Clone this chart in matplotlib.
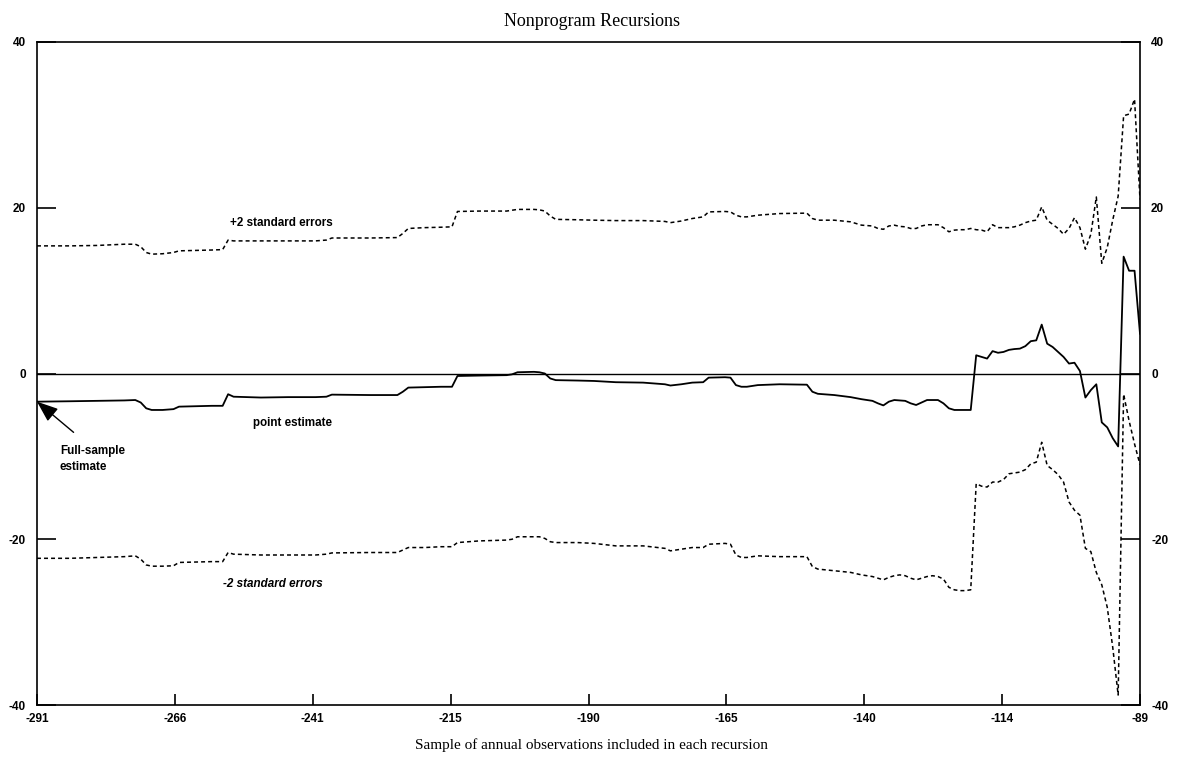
import matplotlib
matplotlib.use("Agg")
import matplotlib.pyplot as plt

# ---- data ----
sample = [-291, -285, -280, -275, -273, -272, -271, -270, -268, -266, -265, -262, -259, -257,
          -256, -255, -250, -245, -240, -238, -237, -230, -225, -224, -223, -220, -217, -215,
          -214, -210, -205, -204, -203, -200, -199, -198, -197, -196, -192, -189, -185, -180,
          -176, -175, -173, -171, -169, -168, -165, -164, -163, -162, -161, -159, -155, -150,
          -149, -148, -145, -142, -140, -138, -137, -136, -135, -134,
          -133, -132, -131, -130, -129, -128, -127, -126, -125, -124, -123, -122, -121, -120,
          -119, -118, -117, -116, -115, -114, -113, -112, -111, -110, -109, -108, -107, -106,
          -105, -104, -103, -102, -101, -100, -99, -98, -97, -96, -95, -94, -93, -92, -91,
          -90, -89]

point_est = [-3.4, -3.35, -3.3, -3.25, -3.2, -3.5, -4.2, -4.4, -4.4, -4.3, -4.0, -3.95, -3.9, -3.9,
             -2.5, -2.8, -2.9, -2.85, -2.85, -2.8, -2.55, -2.6, -2.6, -2.2, -1.7, -1.65, -1.6, -1.6,
             -0.3, -0.25, -0.2, -0.1, 0.15, 0.2, 0.15, 0.0, -0.6, -0.8, -0.85, -0.9, -1.05, -1.1,
             -1.3, -1.45, -1.3, -1.1, -1.05, -0.5, -0.45, -0.5, -1.4, -1.6, -1.6, -1.4, -1.3, -1.35,
             -2.2, -2.45, -2.6, -2.85, -3.1, -3.3, -3.6, -3.85, -3.4, -3.2,
             -3.25, -3.3, -3.6, -3.8, -3.5, -3.2, -3.2, -3.2, -3.6, -4.2, -4.4, -4.4, -4.4, -4.4,
             2.2, 2.0, 1.8, 2.7, 2.5, 2.6, 2.85, 2.95, 3.0, 3.3, 3.9, 4.0, 5.9, 3.6,
             3.2, 2.6, 2.0, 1.2, 1.3, 0.3, -2.9, -2.0, -1.3, -5.9, -6.5, -7.8, -8.8, 14.1, 12.4,
             12.4, 4.8]

upper_2se = [15.4, 15.4, 15.45, 15.6, 15.6, 15.3, 14.6, 14.4, 14.45, 14.6, 14.8, 14.85, 14.9, 14.95,
             16.1, 16.0, 16.0, 16.0, 16.0, 16.1, 16.35, 16.35, 16.4, 16.9, 17.5, 17.6, 17.65, 17.7,
             19.55, 19.6, 19.6, 19.7, 19.8, 19.8, 19.75, 19.6, 19.0, 18.6, 18.55, 18.5, 18.45, 18.45,
             18.35, 18.2, 18.4, 18.7, 18.9, 19.5, 19.55, 19.5, 19.1, 18.9, 18.9, 19.1, 19.3, 19.35,
             18.7, 18.5, 18.5, 18.3, 17.9, 17.8, 17.5, 17.4, 17.8, 17.9,
             17.75, 17.7, 17.5, 17.5, 17.8, 17.95, 17.95, 17.95, 17.6, 17.1, 17.3, 17.35, 17.35, 17.5,
             17.35, 17.3, 17.1, 17.95, 17.6, 17.6, 17.6, 17.7, 17.9, 18.2, 18.4, 18.5, 20.1, 18.5,
             18.0, 17.5, 16.8, 17.5, 18.8, 17.6, 15.0, 16.8, 21.3, 13.3, 15.2, 18.5, 21.4, 31.1, 31.3,
             33.1, 21.0]

lower_2se = [-22.3, -22.3, -22.2, -22.1, -22.0, -22.4, -23.1, -23.25, -23.25, -23.2, -22.8, -22.75, -22.7, -22.7,
             -21.6, -21.8, -21.9, -21.9, -21.9, -21.8, -21.65, -21.6, -21.6, -21.3, -21.0, -21.0, -20.9, -20.9,
             -20.4, -20.2, -20.1, -20.0, -19.7, -19.7, -19.7, -19.9, -20.3, -20.4, -20.4, -20.5, -20.8, -20.8,
             -21.1, -21.4, -21.2, -21.0, -21.0, -20.6, -20.5, -20.6, -21.9, -22.2, -22.2, -22.0, -22.1, -22.1,
             -23.3, -23.6, -23.8, -24.0, -24.3, -24.5, -24.7, -24.9, -24.6, -24.4,
             -24.3, -24.4, -24.7, -24.9, -24.7, -24.5, -24.4, -24.5, -24.8, -25.8, -26.1, -26.2, -26.2, -26.1,
             -13.3, -13.6, -13.7, -13.1, -13.1, -12.8, -12.1, -12.0, -11.9, -11.6, -10.9, -10.7, -8.3, -11.1,
             -11.6, -12.2, -13.1, -15.5, -16.5, -17.1, -21.1, -21.5, -24.0, -25.5, -28.2, -33.0, -38.8, -2.5, -5.7,
             -8.5, -11.0]

x_ticks = [-291, -265.75, -240.5, -215.25, -190, -164.75, -139.5, -114.25, -89]
x_tick_labels = ["-291", "-266", "-241", "-215", "-190", "-165", "-140", "-114", "-89"]
y_ticks = [-40, -20, 0, 20, 40]
y_tick_labels = ["-40", "-20", "0", "20", "40"]

W, H = 1183, 758
fig = plt.figure(figsize=(W / 100, H / 100), dpi=100)
ax = fig.add_axes([37 / W, 1 - 705 / H, (1140 - 37) / W, (705 - 42) / H])

ax.plot(sample, upper_2se, color="black", lw=1.1, ls=(0, (2.6, 2.0)))
ax.plot(sample, lower_2se, color="black", lw=1.1, ls=(0, (2.6, 2.0)))
ax.plot(sample, point_est, color="black", lw=1.3)
ax.axhline(0, color="black", lw=1.0)

ax.set_xlim(-291, -89)
ax.set_ylim(-40, 40)

tick_font = dict(family="Liberation Sans", weight="bold", size=8.5)
ax.set_xticks(x_ticks)
ax.set_xticklabels(x_tick_labels, **tick_font)
ax.set_yticks(y_ticks)
ax.set_yticklabels(y_tick_labels, **tick_font)
ax.tick_params(axis="x", direction="in", length=8, width=1.2, pad=6, top=False)
ax.tick_params(axis="y", direction="in", length=14, width=1.2, pad=8, left=True, right=True,
               labelleft=True, labelright=True)
for s in ax.spines.values():
    s.set_linewidth(1.2)

serif = "Liberation Serif"
fig.text(0.5, 1 - 22 / H, "Nonprogram Recursions", ha="center", va="center",
         family=serif, size=13)
fig.text(0.5, 1 - 745 / H, "Sample of annual observations included in each recursion",
         ha="center", va="center", family=serif, size=11)

lab_font = dict(family="Liberation Sans", weight="bold", size=8.4)
ax.text(-255.7, 18.2, "+2 standard errors", ha="left", va="center", **lab_font)
ax.text(-251.4, -6.0, "point estimate", ha="left", va="center", **lab_font)
ax.text(-257.0, -25.4, "-2 standard errors", ha="left", va="center", style="italic", **lab_font)
ax.text(-286.8, -10.3, "Full-sample\nestimate", ha="left", va="center", linespacing=1.45, **lab_font)
ax.annotate("", xy=(sample[0], point_est[0]), xytext=(-284.3, -7.1),
            arrowprops=dict(arrowstyle="-|>,head_length=1.3,head_width=0.5", color="black",
                            lw=1.0, shrinkA=0, shrinkB=0))

fig.savefig("out.png", dpi=100)
